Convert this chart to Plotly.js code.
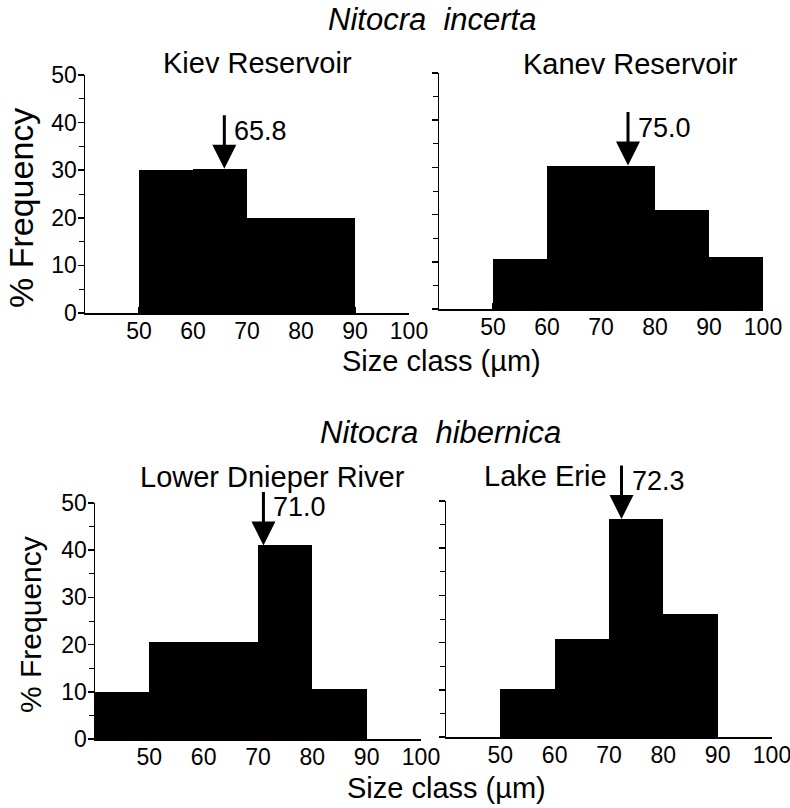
<!DOCTYPE html>
<html>
<head>
<meta charset="utf-8">
<script src="https://cdn.plot.ly/plotly-3.0.1.min.js"></script>
</head>
<body style="margin:0;background:#fff">
<div id="chart" style="width:790px;height:808px"></div>
<script>
// ---- data ----
const kievBins = [50, 60, 70, 80];
const kievFreq = [30, 30.3, 20, 20];
const kanevBins = [50, 60, 70, 80, 90];
const kanevFreq = [10.5, 30.4, 30.4, 21, 11];
const dnieperBins = [40, 50, 60, 70, 80];
const dnieperFreq = [10, 20.5, 20.5, 41, 10.5];
const erieBins = [50, 60, 70, 80];
const erieFreq = [10.2, 20.8, 46.2, 26];
const meanSizes = [65.8, 75.0, 71.0, 72.3];
const meanLabels = ['65.8', '75.0', '71.0', '72.3'];
const panelTitles = ['Kiev Reservoir', 'Kanev Reservoir', 'Lower Dnieper River', 'Lake Erie'];
const speciesTitles = ['Nitocra  incerta', 'Nitocra  hibernica'];
const xTickVals = [50, 60, 70, 80, 90, 100];
const yTickVals = [0, 10, 20, 30, 40, 50];
const yMinorVals = [5, 15, 25, 35, 45];
const binWidth = 10;

const W = 790, H = 808;
const px = v => v / W;
const py = v => 1 - v / H;
const FONT = 'Liberation Sans, Arial, Helvetica, sans-serif';

const panels = [
  {bins: kievBins, freq: kievFreq, xd: [85, 409], yd: [313, 75], labels: true, title: [257, 63]},
  {bins: kanevBins, freq: kanevFreq, xd: [439, 763], yd: [309, 73], labels: false, title: [630, 64]},
  {bins: dnieperBins, freq: dnieperFreq, xd: [95, 421], yd: [739, 503], labels: true, title: [272, 477]},
  {bins: erieBins, freq: erieFreq, xd: [446, 772], yd: [737, 501], labels: false, title: [545, 476]}
];

const traces = [];
const layout = {
  width: W, height: H, autosize: false,
  margin: {l: 0, r: 0, t: 0, b: 0},
  paper_bgcolor: '#fff', plot_bgcolor: '#fff',
  showlegend: false, hovermode: false, bargap: 0,
  font: {family: FONT, color: '#000'},
  annotations: []
};

panels.forEach((p, i) => {
  const n = i === 0 ? '' : String(i + 1);
  traces.push({
    type: 'bar',
    x: p.bins.map(b => b + binWidth / 2),
    y: p.freq,
    width: binWidth,
    marker: {color: '#000', line: {width: 0}},
    xaxis: 'x' + n, yaxis: 'y' + n
  });
  layout['xaxis' + n] = {
    domain: [px(p.xd[0]), px(p.xd[1])],
    anchor: 'y' + n,
    range: [40, 100],
    showline: true, linecolor: '#000', linewidth: 1.5,
    tickvals: xTickVals, ticks: 'inside', ticklen: 6, tickcolor: '#000', tickwidth: 1.5,
    tickfont: {size: 23, family: FONT, color: '#000'},
    ticklabeloverflow: 'allow', ticklabelstandoff: -3,
    showgrid: false, zeroline: false, fixedrange: true
  };
  layout['yaxis' + n] = {
    domain: [py(p.yd[0]), py(p.yd[1])],
    anchor: 'x' + n,
    range: [0, 50],
    showline: true, linecolor: '#000', linewidth: 1.5,
    tickvals: yTickVals, ticks: 'outside', ticklen: 6, tickcolor: '#000', tickwidth: 1.5,
    minor: {tickvals: yMinorVals, ticks: 'outside', ticklen: 5, tickcolor: '#000', tickwidth: 1, showgrid: false},
    showticklabels: p.labels,
    tickfont: {size: 23, family: FONT, color: '#000'},
    ticklabeloverflow: 'allow', ticklabelstandoff: -4,
    showgrid: false, zeroline: false, fixedrange: true
  };
  // mean arrow: tip sits on top of the bar containing the mean
  const m = meanSizes[i];
  const bi = p.bins.findIndex(b => m >= b && m < b + binWidth);
  const tip = p.freq[bi];
  layout.annotations.push({
    xref: 'x' + n, yref: 'y' + n, x: m, y: tip,
    ax: 0, ay: -55, text: '', showarrow: true,
    arrowhead: 2, arrowsize: 1.6, arrowwidth: 3, arrowcolor: '#000', standoff: 0
  });
  layout.annotations.push({
    xref: 'x' + n, yref: 'y' + n, x: m, y: tip,
    xanchor: 'left', yanchor: 'middle', xshift: 8, yshift: 38,
    text: meanLabels[i], showarrow: false,
    font: {size: 27, family: FONT, color: '#000'}
  });
  // panel title
  layout.annotations.push({
    xref: 'paper', yref: 'paper', x: px(p.title[0]), y: py(p.title[1]),
    xanchor: 'center', yanchor: 'middle', text: panelTitles[i], showarrow: false,
    font: {size: 29, family: FONT, color: '#000'}
  });
});

// species titles
[[432, 19], [440, 432]].forEach((pos, i) => {
  layout.annotations.push({
    xref: 'paper', yref: 'paper', x: px(pos[0]), y: py(pos[1]),
    xanchor: 'center', yanchor: 'middle', showarrow: false,
    text: '<i>' + speciesTitles[i] + '</i>',
    font: {size: 31, family: FONT, color: '#000'}
  });
});
// x axis titles
[[441, 361], [446, 788]].forEach(pos => {
  layout.annotations.push({
    xref: 'paper', yref: 'paper', x: px(pos[0]), y: py(pos[1]),
    xanchor: 'center', yanchor: 'middle', showarrow: false,
    text: 'Size class (\u00b5m)',
    font: {size: 29, family: FONT, color: '#000'}
  });
});
// y axis titles
[[21, 208, 34], [30, 625, 30]].forEach(pos => {
  layout.annotations.push({
    xref: 'paper', yref: 'paper', x: px(pos[0]), y: py(pos[1]),
    xanchor: 'center', yanchor: 'middle', showarrow: false, textangle: -90,
    text: '% Frequency',
    font: {size: pos[2], family: FONT, color: '#000'}
  });
});

Plotly.newPlot('chart', traces, layout, {displayModeBar: false, staticPlot: true});
</script>
</body>
</html>
